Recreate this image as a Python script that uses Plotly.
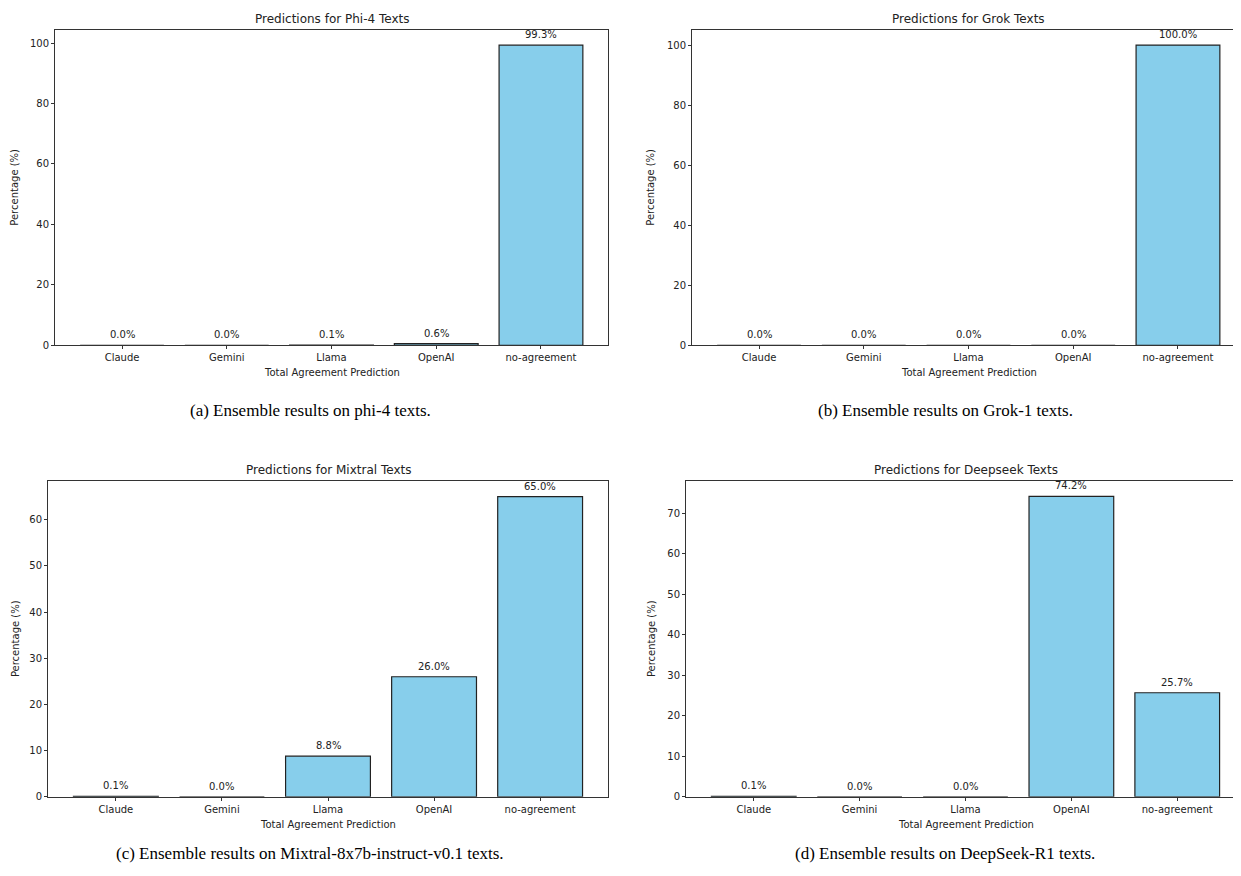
import plotly.graph_objects as go

categories = ["Claude", "Gemini", "Llama", "OpenAI", "no-agreement"]

phi4_values = [0.0, 0.0, 0.1, 0.6, 99.3]
grok_values = [0.0, 0.0, 0.0, 0.0, 100.0]
mixtral_values = [0.1, 0.0, 8.8, 26.0, 65.0]
deepseek_values = [0.1, 0.0, 0.0, 74.2, 25.7]

titles = ["Predictions for Phi-4 Texts", "Predictions for Grok Texts",
          "Predictions for Mixtral Texts", "Predictions for Deepseek Texts"]
captions = ["(a) Ensemble results on phi-4 texts.",
            "(b) Ensemble results on Grok-1 texts.",
            "(c) Ensemble results on Mixtral-8x7b-instruct-v0.1 texts.",
            "(d) Ensemble results on DeepSeek-R1 texts."]
y_ticks = [[0, 20, 40, 60, 80, 100], [0, 20, 40, 60, 80, 100],
           [0, 10, 20, 30, 40, 50, 60], [0, 10, 20, 30, 40, 50, 60, 70]]

series = [phi4_values, grok_values, mixtral_values, deepseek_values]

# page body has an 8px margin; work in screen pixels and convert
OFF = 8
SY = 0.9933
W, H = 1241 - 2 * OFF, 876 - 2 * OFF
# panel boxes in screen pixels: left, full right, top, bottom
boxes = [(55, 608, 30, 345), (692, 1245, 30, 345),
         (48, 608, 481, 796), (686, 1245, 481, 796)]
ytitle_x = [15, 651, 15, 651]
caption_y = [410, 410, 853, 853]
caption_x = [310, 945, 310, 945]
yranges = [[0, 104.3], [0, 105.0], [0, 68.3], [0, 77.9]]
right_border = [True, False, True, False]
X0, XSPAN = -0.64, 5.28

FONT = "DejaVu Sans"
TXT = "#222222"


def px(v):
    return (v - OFF) / W


def py(v):
    return 1 - (v / SY - OFF) / H


fig = go.Figure()
annotations = []
for i, vals in enumerate(series):
    l, r, t, b = boxes[i]
    xa = "x" if i == 0 else f"x{i+1}"
    ya = "y" if i == 0 else f"y{i+1}"
    fig.add_trace(go.Bar(
        x=categories, y=vals, xaxis=xa, yaxis=ya,
        marker=dict(color="#87CEEB", line=dict(color="#222222", width=1.2)),
        showlegend=False, hoverinfo="x+y",
    ))
    for c, v in zip(categories, vals):
        annotations.append(dict(
            x=c, y=v, xref=xa, yref=ya, text=f"{v:.1f}%", showarrow=False,
            xanchor="center", yanchor="bottom", yshift=3,
            font=dict(family=FONT, size=10, color=TXT)))
    full_w = r - l
    right_vis = min(r, OFF + W)
    vis_w = right_vis - l
    xr = [X0, X0 + XSPAN * vis_w / full_w]
    xd = [px(l), px(right_vis)]
    yd = [py(b), py(t)]
    sfx = '' if i == 0 else str(i + 1)
    fig.layout[f"xaxis{sfx}"] = dict(
        domain=xd, anchor=ya, range=xr, type="category",
        showline=True, linecolor="#333333", linewidth=1, mirror=True,
        ticks="outside", ticklen=3, tickcolor="#333333",
        showgrid=False, zeroline=False,
        tickfont=dict(family=FONT, size=10, color=TXT), fixedrange=True)
    fig.layout[f"yaxis{sfx}"] = dict(
        domain=yd, anchor=xa, range=yranges[i],
        showline=True, linecolor="#333333", linewidth=1,
        mirror=right_border[i],
        tickvals=y_ticks[i], ticks="outside", ticklen=3, tickcolor="#333333",
        showgrid=False, zeroline=False,
        tickfont=dict(family=FONT, size=10, color=TXT), fixedrange=True)
    cx = px((l + r) / 2)
    # title
    annotations.append(dict(
        x=cx, y=py(t - 2), xref="paper", yref="paper", text=titles[i],
        showarrow=False, xanchor="center", yanchor="bottom",
        font=dict(family=FONT, size=12, color=TXT)))
    # x axis title
    annotations.append(dict(
        x=cx, y=py(b + 20), xref="paper", yref="paper",
        text="Total Agreement Prediction", showarrow=False,
        xanchor="center", yanchor="top",
        font=dict(family=FONT, size=10, color=TXT)))
    # y axis title
    annotations.append(dict(
        x=px(ytitle_x[i]), y=py((t + b) / 2), xref="paper", yref="paper",
        text="Percentage (%)", showarrow=False, textangle=-90,
        xanchor="center", yanchor="middle",
        font=dict(family=FONT, size=10, color=TXT)))
    # caption
    annotations.append(dict(
        x=px(caption_x[i]), y=py(caption_y[i]), xref="paper", yref="paper",
        text=captions[i], showarrow=False, xanchor="center", yanchor="middle",
        font=dict(family="Liberation Serif", size=17, color="#000000")))

fig.update_layout(
    width=W, height=H, margin=dict(l=0, r=0, t=0, b=0),
    paper_bgcolor="white", plot_bgcolor="white",
    bargap=0.2, annotations=annotations,
)

fig.write_html("out.html")
